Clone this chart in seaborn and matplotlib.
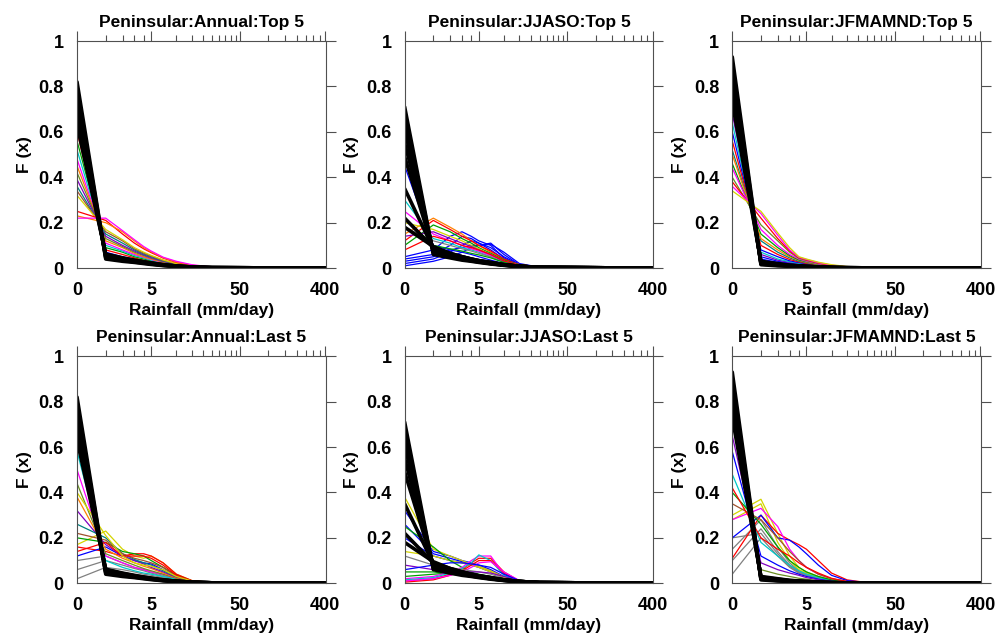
import matplotlib
matplotlib.use("Agg")
import matplotlib.pyplot as plt
import numpy as np
import pandas as pd
import seaborn as sns

# rainfall bins (mm/day) where each PDF value was read
rain = [0, 1, 2, 3, 4, 5, 7, 10, 15, 25, 400]

titles = [
    "Peninsular:Annual:Top 5", "Peninsular:JJASO:Top 5", "Peninsular:JFMAMND:Top 5",
    "Peninsular:Annual:Last 5", "Peninsular:JJASO:Last 5", "Peninsular:JFMAMND:Last 5",
]

# ---- Annual, top 5 ----
ann_top_obs = [
    [0.82, 0.040, 0.030, 0.025, 0.020, 0.016, 0.011, 0.007, 0.004, 0.002, 0],
    [0.78, 0.045, 0.034, 0.027, 0.022, 0.018, 0.012, 0.008, 0.004, 0.002, 0],
    [0.74, 0.050, 0.037, 0.029, 0.024, 0.019, 0.013, 0.008, 0.004, 0.002, 0],
    [0.70, 0.055, 0.040, 0.031, 0.025, 0.020, 0.014, 0.009, 0.005, 0.002, 0],
    [0.66, 0.060, 0.043, 0.033, 0.027, 0.022, 0.015, 0.009, 0.005, 0.002, 0],
    [0.63, 0.062, 0.045, 0.035, 0.028, 0.023, 0.015, 0.009, 0.005, 0.002, 0],
]
ann_top_mod = [
    [0.64, 0.07, 0.050, 0.040, 0.030, 0.025, 0.015, 0.008, 0.004, 0.002, 0],
    [0.60, 0.08, 0.060, 0.045, 0.035, 0.028, 0.018, 0.010, 0.005, 0.002, 0],
    [0.56, 0.09, 0.070, 0.050, 0.040, 0.032, 0.020, 0.011, 0.005, 0.002, 0],
    [0.52, 0.10, 0.075, 0.055, 0.045, 0.035, 0.022, 0.012, 0.006, 0.002, 0],
    [0.48, 0.11, 0.080, 0.060, 0.048, 0.038, 0.024, 0.013, 0.006, 0.002, 0],
    [0.45, 0.12, 0.090, 0.065, 0.050, 0.040, 0.026, 0.014, 0.007, 0.003, 0],
    [0.42, 0.13, 0.095, 0.070, 0.055, 0.043, 0.028, 0.015, 0.007, 0.003, 0],
    [0.39, 0.14, 0.100, 0.075, 0.058, 0.046, 0.030, 0.016, 0.008, 0.003, 0],
    [0.36, 0.15, 0.110, 0.080, 0.062, 0.050, 0.032, 0.018, 0.008, 0.003, 0],
    [0.34, 0.16, 0.120, 0.085, 0.066, 0.053, 0.034, 0.019, 0.009, 0.003, 0],
    [0.32, 0.17, 0.125, 0.090, 0.070, 0.056, 0.036, 0.020, 0.010, 0.003, 0],
    [0.25, 0.21, 0.150, 0.110, 0.085, 0.068, 0.044, 0.025, 0.012, 0.004, 0],
    [0.23, 0.20, 0.160, 0.120, 0.090, 0.072, 0.046, 0.027, 0.013, 0.004, 0],
    [0.22, 0.22, 0.165, 0.125, 0.095, 0.075, 0.048, 0.030, 0.015, 0.005, 0],
]
ann_top_col = ["blue", "red", "green", "cyan", "magenta", "orange", "olive",
               "purple", "teal", "brown", "yellow", "red", "orange", "magenta"]

# ---- JJASO, top 5 ----
jja_top_obs = [
    [0.71, 0.060, 0.045, 0.035, 0.030, 0.025, 0.018, 0.012, 0.007, 0.003, 0],
    [0.66, 0.065, 0.050, 0.040, 0.032, 0.027, 0.020, 0.013, 0.007, 0.003, 0],
    [0.61, 0.070, 0.050, 0.040, 0.033, 0.028, 0.020, 0.013, 0.008, 0.003, 0],
    [0.55, 0.075, 0.055, 0.045, 0.035, 0.030, 0.022, 0.014, 0.008, 0.003, 0],
    [0.49, 0.080, 0.060, 0.045, 0.037, 0.030, 0.022, 0.014, 0.008, 0.003, 0],
    [0.35, 0.085, 0.060, 0.050, 0.040, 0.032, 0.024, 0.015, 0.008, 0.003, 0],
    [0.22, 0.090, 0.065, 0.050, 0.040, 0.033, 0.025, 0.015, 0.008, 0.003, 0],
    [0.18, 0.095, 0.065, 0.050, 0.040, 0.033, 0.025, 0.015, 0.008, 0.003, 0],
]
jja_top_mod = [
    [0.01, 0.03, 0.05, 0.07, 0.09, 0.10, 0.110, 0.060, 0.015, 0.004, 0],
    [0.02, 0.04, 0.07, 0.10, 0.12, 0.11, 0.090, 0.050, 0.015, 0.004, 0],
    [0.04, 0.06, 0.10, 0.14, 0.13, 0.11, 0.080, 0.040, 0.012, 0.003, 0],
    [0.05, 0.08, 0.14, 0.16, 0.14, 0.12, 0.100, 0.045, 0.012, 0.003, 0],
    [0.45, 0.10, 0.08, 0.07, 0.06, 0.05, 0.035, 0.020, 0.008, 0.003, 0],
    [0.03, 0.05, 0.08, 0.09, 0.10, 0.10, 0.105, 0.070, 0.020, 0.004, 0],
    [0.15, 0.22, 0.18, 0.15, 0.12, 0.10, 0.070, 0.035, 0.015, 0.005, 0],
    [0.12, 0.21, 0.17, 0.14, 0.12, 0.10, 0.075, 0.040, 0.015, 0.005, 0],
    [0.10, 0.19, 0.16, 0.13, 0.11, 0.09, 0.065, 0.035, 0.014, 0.004, 0],
    [0.20, 0.17, 0.14, 0.12, 0.10, 0.085, 0.060, 0.030, 0.012, 0.004, 0],
    [0.30, 0.13, 0.11, 0.09, 0.08, 0.07, 0.050, 0.025, 0.010, 0.003, 0],
    [0.25, 0.15, 0.12, 0.10, 0.085, 0.075, 0.055, 0.030, 0.012, 0.004, 0],
    [0.18, 0.12, 0.10, 0.085, 0.075, 0.065, 0.050, 0.025, 0.010, 0.003, 0],
    [0.14, 0.16, 0.13, 0.11, 0.095, 0.08, 0.060, 0.030, 0.012, 0.004, 0],
    [0.08, 0.14, 0.12, 0.10, 0.09, 0.08, 0.060, 0.032, 0.012, 0.004, 0],
    [0.22, 0.10, 0.085, 0.075, 0.065, 0.058, 0.045, 0.025, 0.010, 0.003, 0],
]
jja_top_col = ["blue", "blue", "blue", "blue", "blue", "blue", "orange", "red",
               "green", "yellow", "cyan", "magenta", "gray", "purple", "red", "green"]

# ---- JFMAMND, top 5 ----
jfm_top_obs = [
    [0.93, 0.015, 0.010, 0.008, 0.006, 0.005, 0.003, 0.002, 0.001, 0.001, 0],
    [0.89, 0.018, 0.012, 0.009, 0.007, 0.006, 0.004, 0.002, 0.001, 0.001, 0],
    [0.85, 0.021, 0.014, 0.010, 0.008, 0.006, 0.004, 0.003, 0.001, 0.001, 0],
    [0.81, 0.024, 0.016, 0.011, 0.009, 0.007, 0.005, 0.003, 0.002, 0.001, 0],
    [0.77, 0.027, 0.018, 0.012, 0.010, 0.008, 0.005, 0.003, 0.002, 0.001, 0],
    [0.73, 0.030, 0.020, 0.013, 0.010, 0.008, 0.005, 0.003, 0.002, 0.001, 0],
]
jfm_top_mod = [
    [0.75, 0.04, 0.025, 0.018, 0.014, 0.011, 0.007, 0.004, 0.002, 0.001, 0],
    [0.72, 0.05, 0.030, 0.022, 0.017, 0.013, 0.008, 0.005, 0.002, 0.001, 0],
    [0.68, 0.06, 0.035, 0.025, 0.019, 0.015, 0.009, 0.005, 0.002, 0.001, 0],
    [0.64, 0.07, 0.040, 0.028, 0.021, 0.017, 0.010, 0.006, 0.003, 0.001, 0],
    [0.60, 0.08, 0.050, 0.032, 0.024, 0.019, 0.011, 0.006, 0.003, 0.001, 0],
    [0.56, 0.10, 0.060, 0.038, 0.027, 0.021, 0.012, 0.007, 0.003, 0.001, 0],
    [0.52, 0.12, 0.070, 0.045, 0.030, 0.024, 0.014, 0.008, 0.003, 0.001, 0],
    [0.50, 0.13, 0.080, 0.050, 0.034, 0.026, 0.015, 0.008, 0.004, 0.001, 0],
    [0.46, 0.15, 0.090, 0.055, 0.036, 0.028, 0.016, 0.009, 0.004, 0.001, 0],
    [0.44, 0.17, 0.100, 0.060, 0.040, 0.030, 0.018, 0.010, 0.004, 0.001, 0],
    [0.40, 0.19, 0.120, 0.070, 0.043, 0.033, 0.020, 0.011, 0.005, 0.002, 0],
    [0.38, 0.22, 0.130, 0.075, 0.046, 0.036, 0.022, 0.012, 0.005, 0.002, 0],
    [0.36, 0.24, 0.145, 0.080, 0.048, 0.038, 0.024, 0.013, 0.006, 0.002, 0],
    [0.34, 0.25, 0.155, 0.090, 0.050, 0.040, 0.026, 0.015, 0.007, 0.002, 0],
]
jfm_top_col = ["blue", "blue", "purple", "cyan", "blue", "red", "teal",
               "orange", "green", "magenta", "olive", "red", "magenta", "yellow"]

# ---- Annual, last 5 ----
ann_last_obs = ann_top_obs
ann_last_mod = [
    [0.02, 0.07, 0.06, 0.050, 0.040, 0.035, 0.025, 0.015, 0.006, 0.002, 0],
    [0.06, 0.10, 0.08, 0.065, 0.055, 0.045, 0.030, 0.018, 0.007, 0.002, 0],
    [0.10, 0.12, 0.09, 0.070, 0.060, 0.050, 0.035, 0.020, 0.008, 0.002, 0],
    [0.17, 0.23, 0.15, 0.120, 0.110, 0.120, 0.090, 0.040, 0.012, 0.003, 0],
    [0.16, 0.14, 0.12, 0.130, 0.130, 0.120, 0.090, 0.040, 0.012, 0.003, 0],
    [0.20, 0.18, 0.14, 0.130, 0.120, 0.100, 0.070, 0.035, 0.010, 0.003, 0],
    [0.12, 0.16, 0.12, 0.100, 0.090, 0.085, 0.060, 0.030, 0.010, 0.003, 0],
    [0.50, 0.12, 0.09, 0.070, 0.060, 0.050, 0.040, 0.020, 0.008, 0.002, 0],
    [0.58, 0.10, 0.07, 0.055, 0.045, 0.040, 0.030, 0.018, 0.007, 0.002, 0],
    [0.44, 0.13, 0.10, 0.080, 0.065, 0.055, 0.040, 0.022, 0.008, 0.002, 0],
    [0.38, 0.15, 0.11, 0.090, 0.075, 0.065, 0.045, 0.025, 0.009, 0.002, 0],
    [0.32, 0.17, 0.12, 0.100, 0.085, 0.070, 0.050, 0.027, 0.009, 0.002, 0],
    [0.26, 0.20, 0.13, 0.105, 0.090, 0.080, 0.055, 0.030, 0.010, 0.003, 0],
    [0.22, 0.19, 0.13, 0.110, 0.100, 0.090, 0.070, 0.030, 0.010, 0.003, 0],
    [0.14, 0.18, 0.12, 0.120, 0.120, 0.110, 0.080, 0.035, 0.011, 0.003, 0],
    [0.40, 0.21, 0.12, 0.090, 0.080, 0.075, 0.060, 0.030, 0.010, 0.003, 0],
]
ann_last_col = ["gray", "gray", "gray", "yellow", "red", "green", "blue", "magenta",
                "cyan", "olive", "orange", "purple", "teal", "brown", "red", "yellow"]

# ---- JJASO, last 5 ----
jja_last_obs = jja_top_obs
jja_last_mod = [
    [0.32, 0.14, 0.12, 0.100, 0.090, 0.080, 0.060, 0.030, 0.010, 0.003, 0],
    [0.26, 0.13, 0.11, 0.095, 0.085, 0.075, 0.055, 0.028, 0.010, 0.003, 0],
    [0.20, 0.12, 0.10, 0.090, 0.080, 0.070, 0.050, 0.025, 0.009, 0.003, 0],
    [0.38, 0.15, 0.12, 0.100, 0.085, 0.075, 0.055, 0.028, 0.010, 0.003, 0],
    [0.14, 0.12, 0.10, 0.090, 0.080, 0.070, 0.050, 0.025, 0.010, 0.003, 0],
    [0.03, 0.04, 0.045, 0.040, 0.035, 0.030, 0.022, 0.012, 0.005, 0.002, 0],
    [0.05, 0.05, 0.04, 0.035, 0.030, 0.027, 0.020, 0.012, 0.005, 0.002, 0],
    [0.25, 0.16, 0.10, 0.070, 0.050, 0.040, 0.030, 0.015, 0.006, 0.002, 0],
    [0.01, 0.02, 0.04, 0.060, 0.090, 0.110, 0.110, 0.050, 0.010, 0.003, 0],
    [0.02, 0.03, 0.05, 0.070, 0.100, 0.120, 0.120, 0.040, 0.008, 0.002, 0],
    [0.015, 0.025, 0.045, 0.065, 0.090, 0.125, 0.100, 0.035, 0.008, 0.002, 0],
    [0.005, 0.015, 0.035, 0.055, 0.080, 0.100, 0.100, 0.045, 0.010, 0.003, 0],
    [0.01, 0.02, 0.035, 0.050, 0.070, 0.090, 0.095, 0.050, 0.012, 0.003, 0],
    [0.12, 0.08, 0.07, 0.060, 0.055, 0.050, 0.040, 0.022, 0.008, 0.002, 0],
    [0.08, 0.06, 0.055, 0.050, 0.050, 0.050, 0.045, 0.030, 0.010, 0.003, 0],
    [0.06, 0.08, 0.09, 0.090, 0.085, 0.080, 0.070, 0.040, 0.012, 0.003, 0],
]
jja_last_col = ["blue", "blue", "blue", "yellow", "yellow", "green", "green", "green",
                "red", "magenta", "cyan", "red", "magenta", "gray", "purple", "blue"]

# ---- JFMAMND, last 5 ----
jfm_last_obs = jfm_top_obs
jfm_last_mod = [
    [0.04, 0.20, 0.12, 0.070, 0.045, 0.035, 0.020, 0.010, 0.004, 0.001, 0],
    [0.10, 0.24, 0.14, 0.080, 0.050, 0.040, 0.022, 0.011, 0.004, 0.001, 0],
    [0.15, 0.28, 0.16, 0.090, 0.055, 0.042, 0.024, 0.012, 0.005, 0.001, 0],
    [0.20, 0.22, 0.13, 0.075, 0.048, 0.036, 0.020, 0.010, 0.004, 0.001, 0],
    [0.30, 0.37, 0.22, 0.120, 0.070, 0.050, 0.030, 0.015, 0.006, 0.002, 0],
    [0.28, 0.35, 0.18, 0.100, 0.060, 0.045, 0.026, 0.013, 0.005, 0.001, 0],
    [0.11, 0.30, 0.22, 0.190, 0.170, 0.150, 0.100, 0.045, 0.015, 0.003, 0],
    [0.20, 0.30, 0.20, 0.190, 0.160, 0.130, 0.080, 0.035, 0.012, 0.003, 0],
    [0.28, 0.33, 0.25, 0.150, 0.100, 0.070, 0.040, 0.020, 0.007, 0.002, 0],
    [0.48, 0.18, 0.12, 0.080, 0.055, 0.040, 0.025, 0.012, 0.005, 0.001, 0],
    [0.40, 0.26, 0.16, 0.100, 0.070, 0.050, 0.030, 0.015, 0.006, 0.002, 0],
    [0.58, 0.12, 0.08, 0.055, 0.040, 0.030, 0.018, 0.009, 0.004, 0.001, 0],
    [0.65, 0.09, 0.06, 0.045, 0.035, 0.025, 0.015, 0.008, 0.003, 0.001, 0],
    [0.35, 0.28, 0.20, 0.140, 0.100, 0.070, 0.040, 0.020, 0.007, 0.002, 0],
    [0.73, 0.06, 0.04, 0.030, 0.022, 0.018, 0.011, 0.006, 0.003, 0.001, 0],
    [0.42, 0.20, 0.15, 0.120, 0.090, 0.070, 0.045, 0.022, 0.008, 0.002, 0],
]
jfm_last_col = ["gray", "gray", "gray", "gray", "yellow", "yellow", "red", "blue",
                "magenta", "cyan", "green", "blue", "purple", "brown", "olive", "red"]

panels = [
    (ann_top_obs, ann_top_mod, ann_top_col),
    (jja_top_obs, jja_top_mod, jja_top_col),
    (jfm_top_obs, jfm_top_mod, jfm_top_col),
    (ann_last_obs, ann_last_mod, ann_last_col),
    (jja_last_obs, jja_last_mod, jja_last_col),
    (jfm_last_obs, jfm_last_mod, jfm_last_col),
]

ncl = {"red": "#ff0000", "green": "#00a000", "blue": "#0000ff", "yellow": "#d4d400",
       "cyan": "#00c8c8", "magenta": "#ff00ff", "gray": "#808080", "orange": "#ff8000",
       "purple": "#8000c0", "brown": "#a0522d", "olive": "#6b8e23", "teal": "#008080"}


def long_table(lines):
    rows = []
    for i, vals in enumerate(lines):
        for r, v in zip(rain, vals):
            rows.append((i, r, v))
    return pd.DataFrame(rows, columns=["member", "rain", "F"])


sns.set_style("white")
plt.rcParams["font.family"] = ["Liberation Sans", "DejaVu Sans"]
plt.rcParams["font.weight"] = "bold"
plt.rcParams["text.color"] = "black"
plt.rcParams["axes.labelcolor"] = "black"

fig, axes = plt.subplots(2, 3, figsize=(10.07, 6.36), dpi=100)
fig.subplots_adjust(left=0.0765, right=0.974, top=0.9355, bottom=0.0829,
                    wspace=0.318, hspace=0.388)

fwd = lambda x: np.log10(np.clip(x, 0, None) + 1)
inv = lambda y: 10 ** y - 1

for ax, title, (obs, mod, col) in zip(axes.flat, titles, panels):
    mdf = long_table(mod)
    pal = {i: ncl[c] for i, c in enumerate(col)}
    sns.lineplot(data=mdf, x="rain", y="F", hue="member", palette=pal,
                 estimator=None, sort=False, linewidth=0.9, legend=False, ax=ax)
    odf = long_table(obs)
    sns.lineplot(data=odf, x="rain", y="F", units="member", color="black",
                 estimator=None, sort=False, linewidth=2.6, legend=False, ax=ax)

    ax.set_xscale("function", functions=(fwd, inv))
    ax.set_xlim(0, 404)
    ax.set_ylim(0, 1)
    ax.set_xticks([0, 5, 50, 400])
    ax.set_xticklabels(["0", "5", "50", "400"])
    ax.set_xticks([1, 2, 3, 4, 10, 15, 20, 25, 30, 35, 40, 45,
                   100, 150, 200, 250, 300, 350], minor=True)
    ax.set_yticks([0, 0.2, 0.4, 0.6, 0.8, 1])
    ax.set_yticklabels(["0", "0.2", "0.4", "0.6", "0.8", "1"])
    ax.tick_params(which="both", direction="out", top=True, right=True,
                   labeltop=False, labelright=False, colors="#505050",
                   labelcolor="black", labelsize=13, width=0.8)
    ax.tick_params(axis="y", which="major", length=7.5, pad=2)
    ax.tick_params(axis="x", which="major", length=7, pad=3)
    ax.tick_params(axis="x", which="minor", length=4)
    for s in ax.spines.values():
        s.set_color("#505050")
        s.set_linewidth(0.8)
        s.set_visible(True)
    ax.set_title(title, fontsize=12.5, fontweight="bold", color="black", pad=10)
    ax.set_xlabel("Rainfall (mm/day)", fontsize=12.5, fontweight="bold", labelpad=3)
    ax.set_ylabel("F (x)", fontsize=12.5, fontweight="bold", labelpad=5)

fig.savefig("out.png", dpi=100)
